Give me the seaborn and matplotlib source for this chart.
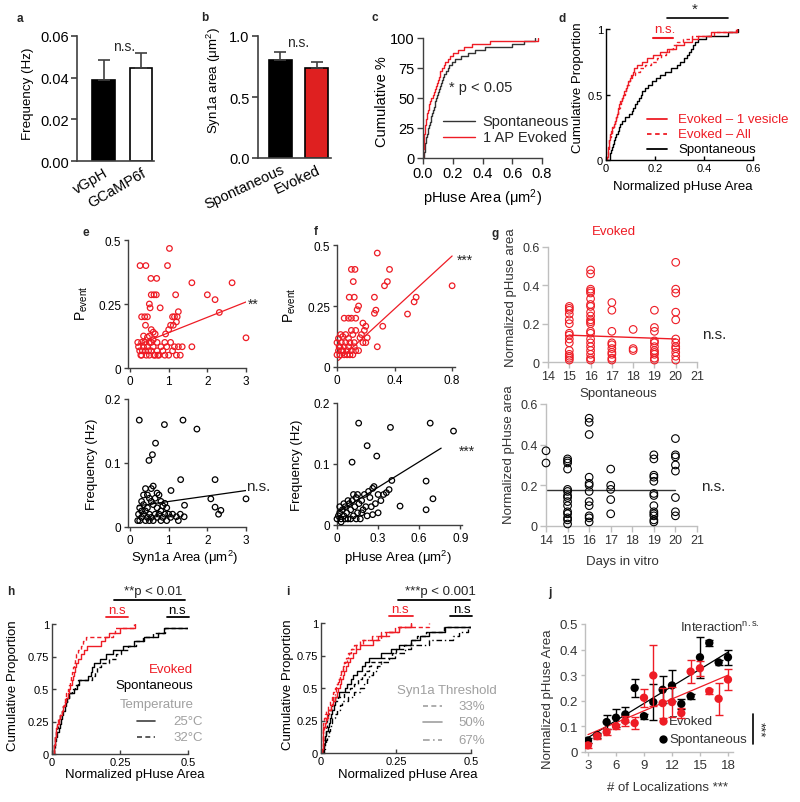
import matplotlib
matplotlib.use("Agg")
import matplotlib.pyplot as plt
import numpy as np
import pandas as pd
import seaborn as sns

sns.set_theme(style="ticks")
plt.rcParams["font.family"] = ["Liberation Sans", "DejaVu Sans"]
plt.rcParams["mathtext.fontset"] = "custom"
plt.rcParams["mathtext.rm"] = "Liberation Sans"
plt.rcParams["mathtext.it"] = "Liberation Sans:italic"
plt.rcParams["mathtext.bf"] = "Liberation Sans:bold"
plt.rcParams["axes.unicode_minus"] = False

RED = "#ee1c25"
BAR_RED = "#ff0000"
GRAY = "#a0a0a0"
LGRAY = "#bfbfbf"
DGRAY = "#404040"

# ---------------- data ----------------
# a
a_groups = ["vGpH", "GCaMP6f"]
a_means = [0.039, 0.0447]
a_sem = [0.0094, 0.0070]
# b
b_groups = ["Spontaneous", "Evoked"]
b_means = [0.80, 0.735]
b_sem = [0.065, 0.052]
# c (pHuse area samples, um^2)
c_spont = [0.006, 0.009, 0.011, 0.013, 0.016, 0.018, 0.021, 0.026, 0.031, 0.036,
           0.041, 0.046, 0.051, 0.056, 0.061, 0.067, 0.073, 0.078, 0.084, 0.090,
           0.095, 0.101, 0.107, 0.114, 0.121, 0.128, 0.136, 0.144, 0.154, 0.165,
           0.178, 0.198, 0.218, 0.257, 0.300, 0.350, 0.420, 0.597, 0.680, 0.753]
c_evoked = [0.001, 0.002, 0.003, 0.0045, 0.0055, 0.0065, 0.008, 0.010, 0.012, 0.014,
            0.016, 0.018, 0.022, 0.026, 0.030, 0.034, 0.039, 0.043, 0.048, 0.055,
            0.064, 0.073, 0.080, 0.087, 0.094, 0.100, 0.105, 0.111, 0.116, 0.125,
            0.139, 0.150, 0.166, 0.183, 0.203, 0.236, 0.274, 0.330, 0.450, 0.775]
# d (normalized pHuse area samples)
d_ev_1ves = [0.005, 0.007, 0.008, 0.010, 0.012, 0.013, 0.015, 0.018, 0.022, 0.026,
             0.031, 0.035, 0.039, 0.043, 0.047, 0.051, 0.055, 0.059, 0.064, 0.070,
             0.075, 0.080, 0.086, 0.091, 0.097, 0.103, 0.109, 0.116, 0.128, 0.145,
             0.168, 0.193, 0.220, 0.248, 0.287, 0.320, 0.349, 0.374, 0.430, 0.533]
d_ev_all = [0.005, 0.007, 0.009, 0.011, 0.012, 0.014, 0.016, 0.019, 0.023, 0.027,
            0.032, 0.037, 0.040, 0.044, 0.048, 0.052, 0.056, 0.060, 0.065, 0.071,
            0.076, 0.082, 0.087, 0.093, 0.099, 0.107, 0.120, 0.140, 0.160, 0.183,
            0.208, 0.226, 0.245, 0.258, 0.275, 0.290, 0.315, 0.350, 0.440, 0.530]
d_spont = [0.015, 0.018, 0.022, 0.026, 0.030, 0.034, 0.038, 0.042, 0.047, 0.053,
           0.058, 0.064, 0.078, 0.092, 0.105, 0.112, 0.120, 0.128, 0.135, 0.141,
           0.148, 0.158, 0.172, 0.187, 0.203, 0.220, 0.239, 0.266, 0.291, 0.304,
           0.317, 0.329, 0.337, 0.346, 0.354, 0.364, 0.377, 0.410, 0.500, 0.540]
# e top: Syn1a area vs P_event (evoked)
e_ev_area = [0.26, 0.41, 0.54, 0.69, 0.97, 1.02, 0.55, 0.62, 0.68, 0.50,
             0.52, 0.78, 0.30, 0.38, 0.45, 1.18, 1.60, 2.00, 2.20, 2.31,
             2.64, 3.00, 0.40, 1.10, 1.15, 1.22, 1.25, 1.20, 1.05, 1.00,
             0.92, 1.12, 0.55, 0.60, 0.65, 0.50, 0.50, 0.55, 0.60, 0.45,
             0.20, 0.22, 0.25, 0.28, 0.30, 0.32, 0.35, 0.38, 0.40, 0.42,
             0.45, 0.48, 0.50, 0.55, 0.60, 0.65, 0.70, 0.75, 0.80, 0.85,
             0.90, 0.95, 1.00, 1.10, 1.15, 1.20, 1.25, 1.30, 1.35, 1.60,
             0.70, 0.90, 1.05, 0.30, 0.35, 0.62, 0.72]
e_ev_p = [0.40, 0.40, 0.35, 0.35, 0.40, 0.467, 0.286, 0.286, 0.286, 0.25,
          0.235, 0.235, 0.20, 0.20, 0.20, 0.286, 0.333, 0.286, 0.267, 0.217,
          0.333, 0.118, 0.167, 0.20, 0.20, 0.20, 0.22, 0.18, 0.167, 0.15,
          0.133, 0.167, 0.15, 0.14, 0.133, 0.125, 0.10, 0.10, 0.11, 0.12,
          0.10, 0.083, 0.067, 0.05, 0.05, 0.067, 0.083, 0.10, 0.067, 0.05,
          0.083, 0.067, 0.05, 0.067, 0.083, 0.05, 0.067, 0.05, 0.083, 0.067,
          0.05, 0.083, 0.05, 0.067, 0.083, 0.05, 0.083, 0.05, 0.083, 0.083,
          0.10, 0.10, 0.10, 0.10, 0.125, 0.05, 0.05]
e_ev_fit_x = [0.2, 3.0]
e_ev_fit_y = [0.09, 0.258]
# e bottom: Syn1a area vs frequency (spontaneous)
e_sp_area = [0.24, 1.37, 0.89, 1.73, 0.66, 0.58, 0.49, 1.31, 2.20, 1.06,
             2.09, 3.00, 2.20, 2.35, 2.29, 1.41, 1.40, 1.30, 1.20, 1.25,
             0.55, 0.60, 0.70, 0.75, 0.80, 0.85, 0.90, 0.95, 1.00, 1.05,
             1.10, 0.40, 0.45, 0.50, 0.55, 0.30, 0.35, 0.25, 0.22, 0.20,
             0.25, 0.30, 0.35, 0.40, 0.45, 0.50, 0.55, 0.60, 0.65, 0.70,
             0.75, 0.80, 0.85, 0.90, 0.95, 0.30, 0.40, 0.50, 0.60, 0.65,
             0.70, 0.80, 0.35, 0.45]
e_sp_freq = [0.167, 0.167, 0.16, 0.153, 0.131, 0.113, 0.104, 0.074, 0.074, 0.057,
             0.044, 0.044, 0.031, 0.026, 0.02, 0.034, 0.016, 0.02, 0.016, 0.01,
             0.06, 0.064, 0.053, 0.05, 0.04, 0.033, 0.037, 0.03, 0.02, 0.015,
             0.02, 0.06, 0.05, 0.045, 0.04, 0.04, 0.035, 0.03, 0.02, 0.01,
             0.01, 0.015, 0.02, 0.025, 0.03, 0.02, 0.015, 0.01, 0.02, 0.03,
             0.02, 0.01, 0.015, 0.02, 0.01, 0.025, 0.01, 0.01, 0.035, 0.045,
             0.015, 0.025, 0.05, 0.015]
e_sp_fit_x = [0.2, 3.0]
e_sp_fit_y = [0.033, 0.057]
# f top: pHuse area vs P_event (evoked)
f_ev_area = [0.28, 0.10, 0.125, 0.365, 0.113, 0.35, 0.33, 0.085, 0.12, 0.26,
             0.55, 0.536, 0.49, 0.80, 0.27, 0.26, 0.318, 0.28, 0.15, 0.14,
             0.05, 0.08, 0.10, 0.13, 0.18, 0.20, 0.19, 0.21, 0.18, 0.20,
             0.17, 0.16, 0.15,
             0.0, 0.01, 0.02, 0.0, 0.01, 0.02, 0.03, 0.03, 0.04, 0.05,
             0.05, 0.06, 0.06, 0.07, 0.07, 0.08, 0.09, 0.09, 0.10, 0.10,
             0.11, 0.11, 0.12, 0.12, 0.13, 0.13, 0.04, 0.015, 0.025, 0.08]
f_ev_p = [0.467, 0.40, 0.40, 0.40, 0.35, 0.35, 0.333, 0.286, 0.286, 0.286,
          0.286, 0.267, 0.217, 0.333, 0.233, 0.22, 0.167, 0.083, 0.25, 0.235,
          0.20, 0.20, 0.20, 0.20, 0.18, 0.167, 0.15, 0.12, 0.10, 0.10,
          0.133, 0.12, 0.067,
          0.05, 0.067, 0.083, 0.10, 0.117, 0.05, 0.067, 0.10, 0.125, 0.05,
          0.083, 0.10, 0.133, 0.05, 0.067, 0.083, 0.05, 0.10, 0.067, 0.15,
          0.05, 0.133, 0.083, 0.10, 0.067, 0.15, 0.067, 0.083, 0.133, 0.117]
f_ev_fit_x = [0.01, 0.80]
f_ev_fit_y = [0.027, 0.455]
# f bottom: pHuse area vs frequency (spontaneous)
f_sp_area = [0.158, 0.39, 0.22, 0.29, 0.11, 0.68, 0.85, 0.65, 0.70, 0.65,
             0.46, 0.40, 0.36, 0.38, 0.27, 0.26, 0.30, 0.32, 0.34, 0.30,
             0.26, 0.28, 0.24, 0.25,
             0.0, 0.01, 0.02, 0.03, 0.04, 0.05, 0.06, 0.07, 0.08, 0.09,
             0.10, 0.11, 0.12, 0.13, 0.14, 0.15, 0.16, 0.17, 0.18, 0.19,
             0.20, 0.21, 0.22, 0.23,
             0.02, 0.05, 0.08, 0.12, 0.14, 0.18, 0.10, 0.06, 0.15, 0.03]
f_sp_freq = [0.167, 0.16, 0.13, 0.113, 0.103, 0.167, 0.154, 0.072, 0.043, 0.025,
             0.031, 0.073, 0.053, 0.058, 0.063, 0.06, 0.05, 0.04, 0.05, 0.02,
             0.017, 0.035, 0.045, 0.03,
             0.01, 0.015, 0.02, 0.01, 0.025, 0.015, 0.03, 0.02, 0.01, 0.035,
             0.025, 0.04, 0.015, 0.03, 0.045, 0.02, 0.035, 0.01, 0.04, 0.025,
             0.05, 0.03, 0.015, 0.055,
             0.03, 0.035, 0.04, 0.05, 0.01, 0.02, 0.01, 0.01, 0.05, 0.005]
f_sp_fit_x = [0.0, 0.76]
f_sp_fit_y = [0.02, 0.126]
# g: normalized pHuse area by days in vitro
g_ev_days = [15, 16, 17, 18, 19, 20]
g_ev_vals = [[0.29, 0.28, 0.27, 0.25, 0.22, 0.20, 0.15, 0.14, 0.12, 0.10, 0.06, 0.04, 0.03, 0.02, 0.01],
             [0.48, 0.46, 0.38, 0.37, 0.36, 0.33, 0.30, 0.29, 0.26, 0.24, 0.22, 0.21, 0.20, 0.16, 0.15,
              0.12, 0.10, 0.08, 0.06, 0.04, 0.02, 0.01],
             [0.31, 0.27, 0.16, 0.10, 0.09, 0.07, 0.05, 0.04, 0.02, 0.01],
             [0.17, 0.07, 0.06],
             [0.27, 0.18, 0.16, 0.11, 0.10, 0.08, 0.06, 0.05, 0.04, 0.02, 0.01],
             [0.52, 0.38, 0.36, 0.26, 0.22, 0.12, 0.10, 0.08, 0.07, 0.05, 0.03, 0.01]]
g_ev_fit_x = [15, 20]
g_ev_fit_y = [0.14, 0.12]
g_sp_days = [14, 15, 16, 17, 19, 20]
g_sp_vals = [[0.37, 0.31],
             [0.33, 0.32, 0.31, 0.28, 0.18, 0.17, 0.15, 0.14, 0.12, 0.10, 0.07, 0.06, 0.04, 0.03, 0.01],
             [0.53, 0.51, 0.45, 0.24, 0.21, 0.20, 0.17, 0.12, 0.10, 0.05, 0.04, 0.02],
             [0.28, 0.20, 0.18, 0.13, 0.06],
             [0.35, 0.33, 0.25, 0.24, 0.22, 0.16, 0.15, 0.10, 0.07, 0.06, 0.05, 0.03, 0.02],
             [0.43, 0.35, 0.34, 0.30, 0.27, 0.14, 0.07, 0.05]]
g_sp_fit_x = [14, 20]
g_sp_fit_y = [0.178, 0.178]
# h: temperature
h_ev_25 = [0.006, 0.008, 0.010, 0.012, 0.014, 0.015, 0.018, 0.024, 0.031, 0.037,
           0.041, 0.046, 0.052, 0.057, 0.062, 0.067, 0.073, 0.078, 0.081, 0.085,
           0.089, 0.094, 0.105, 0.116, 0.130, 0.180, 0.196, 0.210, 0.250, 0.305]
h_ev_32 = [0.006, 0.008, 0.010, 0.012, 0.014, 0.016, 0.018, 0.023, 0.029, 0.035,
           0.039, 0.044, 0.049, 0.053, 0.057, 0.061, 0.066, 0.070, 0.074, 0.079,
           0.082, 0.085, 0.089, 0.097, 0.105, 0.115, 0.125, 0.225, 0.230, 0.300]
h_sp_25 = [0.007, 0.009, 0.010, 0.012, 0.018, 0.024, 0.030, 0.033, 0.038, 0.042,
           0.047, 0.051, 0.056, 0.062, 0.080, 0.092, 0.099, 0.134, 0.143, 0.148,
           0.154, 0.175, 0.200, 0.225, 0.260, 0.300, 0.340, 0.390, 0.410, 0.560]
h_sp_32 = [0.007, 0.010, 0.012, 0.014, 0.016, 0.019, 0.021, 0.026, 0.031, 0.036,
           0.041, 0.046, 0.055, 0.064, 0.072, 0.083, 0.094, 0.146, 0.158, 0.167,
           0.180, 0.210, 0.235, 0.255, 0.280, 0.310, 0.335, 0.370, 0.415, 0.560]
# i: Syn1a threshold
i_ev_33 = [0.004, 0.005, 0.006, 0.006, 0.007, 0.007, 0.008, 0.011, 0.014, 0.018,
           0.024, 0.029, 0.036, 0.041, 0.046, 0.051, 0.056, 0.062, 0.067, 0.072,
           0.078, 0.084, 0.091, 0.099, 0.111, 0.130, 0.200, 0.225, 0.247, 0.360]
i_ev_50 = [0.004, 0.005, 0.006, 0.006, 0.007, 0.008, 0.012, 0.016, 0.020, 0.024,
           0.032, 0.040, 0.047, 0.052, 0.057, 0.062, 0.067, 0.072, 0.077, 0.084,
           0.090, 0.096, 0.105, 0.118, 0.130, 0.172, 0.190, 0.215, 0.260, 0.300]
i_ev_67 = [0.004, 0.005, 0.006, 0.007, 0.008, 0.010, 0.015, 0.019, 0.024, 0.028,
           0.032, 0.036, 0.040, 0.045, 0.050, 0.054, 0.059, 0.064, 0.068, 0.074,
           0.080, 0.085, 0.092, 0.099, 0.115, 0.140, 0.170, 0.200, 0.260, 0.300]
i_sp_33 = [0.007, 0.009, 0.011, 0.013, 0.015, 0.017, 0.019, 0.021, 0.023, 0.025,
           0.036, 0.047, 0.056, 0.078, 0.097, 0.110, 0.122, 0.136, 0.148, 0.160,
           0.168, 0.200, 0.235, 0.250, 0.278, 0.300, 0.320, 0.350, 0.410, 0.560]
i_sp_50 = [0.008, 0.010, 0.012, 0.013, 0.018, 0.022, 0.026, 0.030, 0.034, 0.038,
           0.042, 0.046, 0.048, 0.060, 0.080, 0.087, 0.100, 0.106, 0.120, 0.136,
           0.148, 0.160, 0.200, 0.232, 0.260, 0.300, 0.330, 0.360, 0.413, 0.560]
i_sp_67 = [0.011, 0.014, 0.018, 0.021, 0.025, 0.029, 0.032, 0.036, 0.046, 0.054,
           0.062, 0.069, 0.090, 0.110, 0.130, 0.142, 0.152, 0.160, 0.172, 0.185,
           0.200, 0.225, 0.247, 0.280, 0.300, 0.360, 0.440, 0.460, 0.490, 0.560]
# j
j_loc = [3, 4, 5, 6, 7, 8, 9, 10, 11, 12, 13, 14, 15, 16, 17, 18]
j_sp_mean = [0.045, 0.065, 0.117, 0.134, 0.147, 0.250, 0.140, 0.195, 0.243, 0.260,
             0.188, 0.218, 0.370, 0.426, 0.350, 0.370]
j_sp_err = [0.01, 0.01, 0.026, 0.035, 0.029, 0.035, 0.01, 0.07, 0.052, 0.06,
            0.02, 0.01, 0.08, 0.01, 0.01, 0.03]
j_ev_mean = [0.026, 0.062, 0.078, 0.101, 0.121, 0.113, 0.212, 0.299, 0.191, 0.195,
             0.152, 0.314, 0.327, 0.238, 0.208, 0.283]
j_ev_err = [0.01, 0.01, 0.01, 0.01, 0.02, 0.025, 0.035, 0.12, 0.06, 0.06,
            0.02, 0.045, 0.03, 0.01, 0.062, 0.04]
j_fit_x = [3, 18]
j_sp_fit = [0.056, 0.39]
j_ev_fit = [0.068, 0.30]

# ---------------- layout helpers ----------------
W, H = 800, 803
fig = plt.figure(figsize=(W / 100, H / 100), dpi=100)


def add_ax(l, t, r, b):
    ax = fig.add_axes([l / W, 1 - b / H, (r - l) / W, (b - t) / H])
    ax._px = (l, t, r, b)
    return ax


def letter(x, y, s):
    fig.text(x / W, 1 - y / H, s, fontsize=8.5, fontweight="bold", ha="center", va="center")


def style(ax, color="black", lw=1.0, direction="out", length=3.5, size=8, labelcolor="black"):
    for s in ["top", "right"]:
        ax.spines[s].set_visible(False)
    for s in ["left", "bottom"]:
        ax.spines[s].set_color(color)
        ax.spines[s].set_linewidth(lw)
    ax.tick_params(direction=direction, length=length, width=lw, color=color,
                   labelsize=size, labelcolor=labelcolor, pad=2)


def ylabel_at(ax, text, right_px, yfrac, size, color="black"):
    l, t, r, b = ax._px
    ax.set_ylabel(text, fontsize=size, color=color)
    ax.yaxis.set_label_coords((right_px - l) / (r - l), yfrac)


def xlabel_at(ax, text, top_px, xfrac, size, color="black"):
    l, t, r, b = ax._px
    ax.set_xlabel(text, fontsize=size, color=color)
    ax.xaxis.set_label_coords(xfrac, -(top_px - b) / (b - t))


def ecdf(ax, vals, color, ls="-", lw=1.0, stat="proportion"):
    sns.ecdfplot(x=vals, ax=ax, color=color, linestyle=ls, linewidth=lw, stat=stat)


def circles(ax, x, y, color, s=16, lw=0.9):
    sns.scatterplot(x=x, y=y, ax=ax, color=color, facecolor="none", edgecolor=color,
                    s=s, linewidth=lw, clip_on=False, zorder=3)


# ---------------- a ----------------
ax = add_ax(77, 37, 154, 162)
df_a = pd.DataFrame({"group": a_groups, "freq": a_means})
sns.barplot(data=df_a, x="group", y="freq", hue="group", palette=["black", "white"],
            edgecolor="black", linewidth=1.2, width=0.61, errorbar=None, legend=False, ax=ax)
ax.errorbar([0, 1], a_means, yerr=[[0, 0], a_sem], fmt="none", ecolor=DGRAY,
            elinewidth=1.2, capsize=4, capthick=1.2, zorder=1)
style(ax, color=DGRAY, lw=1.2, length=4, size=10.5)
ax.tick_params(axis="x", length=0, pad=3)
ax.set_xlim(-0.707, 1.347)
ax.set_ylim(0, 0.06)
ax.set_yticks([0, 0.02, 0.04, 0.06])
ax.set_yticklabels(["0.00", "0.02", "0.04", "0.06"])
ax.set_xticks([0, 1])
ax.set_xticklabels(a_groups, rotation=30, ha="right", rotation_mode="anchor", fontsize=10.5)
ylabel_at(ax, "Frequency (Hz)", 34, 0.544, 9.6)
ax.set_xlabel("")
ax.text(0.55, 0.0552, "n.s.", ha="center", va="center", fontsize=10)
letter(20, 19, "a")

# ---------------- b ----------------
ax = add_ax(258, 37, 331, 159)
df_b = pd.DataFrame({"group": b_groups, "area": b_means})
sns.barplot(data=df_b, x="group", y="area", hue="group", palette=["black", BAR_RED],
            edgecolor="black", linewidth=1.2, width=0.63, errorbar=None, legend=False, ax=ax)
ax.errorbar([0, 1], b_means, yerr=[[0, 0], b_sem], fmt="none", ecolor=DGRAY,
            elinewidth=1.2, capsize=4, capthick=1.2, zorder=1)
style(ax, color=DGRAY, lw=1.2, length=4, size=10.5)
ax.tick_params(axis="x", length=0, pad=3)
ax.set_xlim(-0.616, 1.384)
ax.set_ylim(0, 1.0)
ax.set_yticks([0, 0.5, 1.0])
ax.set_yticklabels(["0.0", "0.5", "1.0"])
ax.set_xticks([0, 1])
ax.set_xticklabels(b_groups, rotation=25, ha="right", rotation_mode="anchor", fontsize=10.5)
ylabel_at(ax, "Syn1a area (\u03bcm$^{2}$)", 223, 0.64, 9.6)
ax.set_xlabel("")
ax.text(0.48, 0.95, "n.s.", ha="center", va="center", fontsize=10)
letter(205, 18, "b")

# ---------------- c ----------------
ax = add_ax(423, 39, 542, 159)
ecdf(ax, c_spont, "#333333", stat="percent")
ecdf(ax, c_evoked, RED, stat="percent")
style(ax, color=DGRAY, lw=1.0, length=4, size=10.5)
ax.set_xlim(0, 0.8)
ax.set_ylim(0, 100)
ax.set_xticks([0, 0.2, 0.4, 0.6, 0.8])
ax.set_xticklabels(["0.0", "0.2", "0.4", "0.6", "0.8"])
ax.set_yticks([0, 25, 50, 75, 100])
ylabel_at(ax, "Cumulative %", 389, 0.48, 10.5)
xlabel_at(ax, "pHuse Area (\u03bcm$^{2}$)", 187, 0.5, 10.5)
ax.text(0.172, 59, "* p < 0.05", ha="left", va="center", fontsize=10.5)
ax.plot([0.134, 0.349], [30.8, 30.8], color="#333333", lw=1.0, clip_on=False)
ax.plot([0.134, 0.349], [17.5, 17.5], color=RED, lw=1.0, clip_on=False)
ax.text(0.40, 30.8, "Spontaneous", ha="left", va="center", fontsize=10.5)
ax.text(0.40, 17.5, "1 AP Evoked", ha="left", va="center", fontsize=10.5)
letter(375, 18, "c")

# ---------------- d ----------------
ax = add_ax(606, 30, 753, 161)
ecdf(ax, d_spont, "black")
ecdf(ax, d_ev_all, RED, ls=(0, (2.5, 2)))
ecdf(ax, d_ev_1ves, RED)
style(ax, color="black", lw=1.0, direction="in", length=3, size=8)
ax.set_xlim(0, 0.6)
ax.set_ylim(0, 1)
ax.set_xticks([0, 0.2, 0.4, 0.6])
ax.set_xticklabels(["0", "0.2", "0.4", "0.6"])
ax.set_yticks([0, 0.5, 1])
ax.set_yticklabels(["0", "0.5", "1"])
ax.set_ylabel("")
ylabel_at(ax, "Cumulative Proportion", 584, 0.557, 9.5)
xlabel_at(ax, "Normalized pHuse Area", 181, 0.52, 9.5)
ax.plot([0.249, 0.498], [1.084, 1.084], color="black", lw=1.2, clip_on=False)
ax.text(0.363, 1.10, "*", ha="center", va="bottom", fontsize=11)
ax.plot([0.192, 0.273], [0.931, 0.931], color=RED, lw=1.5, clip_on=False)
ax.text(0.241, 0.955, "n.s.", ha="center", va="bottom", fontsize=9.5, color=RED)
for yy, lab, col, ls in [(0.313, "Evoked \u2013 1 vesicle", RED, "-"),
                         (0.198, "Evoked \u2013 All", RED, (0, (2.5, 2))),
                         (0.084, "Spontaneous", "black", "-")]:
    ax.plot([0.167, 0.249], [yy, yy], color=col, ls=ls, lw=1.3)
    ax.text(0.294, yy, lab, ha="left", va="center", fontsize=9.5, color=col)
letter(562, 19, "d")

# ---------------- e top ----------------
ax = add_ax(128, 241, 246, 369)
circles(ax, e_ev_area, e_ev_p, RED)
sns.lineplot(x=e_ev_fit_x, y=e_ev_fit_y, ax=ax, color=RED, lw=0.9)
style(ax, color=DGRAY, lw=1.0, length=3, size=8.5)
ax.set_xlim(-0.052, 3.0)
ax.set_ylim(0, 0.5)
ax.set_xticks([0, 1, 2, 3])
ax.set_yticks([0, 0.25, 0.5])
ax.set_yticklabels(["0", "0.25", "0.5"])
ylabel_at(ax, "$\\mathrm{P}_{\\mathrm{event}}$", 90, 0.51, 10)
ax.text(3.06, 0.252, "**", ha="left", va="center", fontsize=10)
letter(86, 233, "e")

# ---------------- e bottom ----------------
ax = add_ax(128, 400, 246, 528)
circles(ax, e_sp_area, e_sp_freq, "black")
sns.lineplot(x=e_sp_fit_x, y=e_sp_fit_y, ax=ax, color="black", lw=0.9)
style(ax, color=DGRAY, lw=1.0, length=3, size=8.5)
ax.set_xlim(-0.052, 3.0)
ax.set_ylim(0, 0.2)
ax.set_xticks([0, 1, 2, 3])
ax.set_yticks([0, 0.1, 0.2])
ax.set_yticklabels(["0", "0.1", "0.2"])
ylabel_at(ax, "Frequency (Hz)", 98, 0.5, 9.5)
xlabel_at(ax, "Syn1a Area (\u03bcm$^{2}$)", 549, 0.48, 9.5)
ax.text(3.0, 0.064, "n.s.", ha="left", va="center", fontsize=11)

# ---------------- f top ----------------
ax = add_ax(337, 246, 455, 368)
circles(ax, f_ev_area, f_ev_p, RED)
sns.lineplot(x=f_ev_fit_x, y=f_ev_fit_y, ax=ax, color=RED, lw=0.9)
style(ax, color=DGRAY, lw=1.0, length=3, size=8.5)
ax.set_xlim(0, 0.82)
ax.set_ylim(0, 0.5)
ax.set_xticks([0, 0.4, 0.8])
ax.set_xticklabels(["0", "0.4", "0.8"])
ax.set_yticks([0, 0.25, 0.5])
ax.set_yticklabels(["0", "0.25", "0.5"])
ylabel_at(ax, "$\\mathrm{P}_{\\mathrm{event}}$", 298, 0.51, 10)
ax.text(0.835, 0.44, "***", ha="left", va="center", fontsize=10)
letter(316, 232, "f")

# ---------------- f bottom ----------------
ax = add_ax(337, 404, 462, 526)
circles(ax, f_sp_area, f_sp_freq, "black")
sns.lineplot(x=f_sp_fit_x, y=f_sp_fit_y, ax=ax, color="black", lw=0.9)
style(ax, color=DGRAY, lw=1.0, length=3, size=8.5)
ax.set_xlim(0, 0.912)
ax.set_ylim(0, 0.2)
ax.set_xticks([0, 0.3, 0.6, 0.9])
ax.set_xticklabels(["0", "0.3", "0.6", "0.9"])
ax.set_yticks([0, 0.1, 0.2])
ax.set_yticklabels(["0", "0.1", "0.2"])
ylabel_at(ax, "Frequency (Hz)", 303, 0.5, 9.5)
xlabel_at(ax, "pHuse Area (\u03bcm$^{2}$)", 549, 0.484, 9.5)
ax.text(0.89, 0.121, "***", ha="left", va="center", fontsize=10)

# ---------------- g top ----------------
ax = add_ax(548, 248, 697, 363)
df_gev = pd.DataFrame([(d, v) for d, vals in zip(g_ev_days, g_ev_vals) for v in vals],
                      columns=["day", "area"])
circles(ax, df_gev["day"], df_gev["area"], RED, s=30, lw=0.8)
sns.lineplot(x=g_ev_fit_x, y=g_ev_fit_y, ax=ax, color=RED, lw=1.0)
style(ax, color=LGRAY, lw=1.0, length=4, size=9, labelcolor="#333333")
ax.set_xlim(14, 21)
ax.set_ylim(0, 0.6)
ax.set_xticks(range(14, 22))
ax.set_yticks([0, 0.2, 0.4, 0.6])
ax.set_yticklabels(["0", "0.2", "0.4", "0.6"])
ylabel_at(ax, "Normalized pHuse area", 517, 0.57, 9.5, color="#333333")
ax.set_xlabel("")
ax.text(17.1, 0.683, "Evoked", ha="center", va="center", fontsize=9.5, color=RED)
ax.text(21.25, 0.146, "n.s.", ha="left", va="center", fontsize=11)
letter(495, 234, "g")

# ---------------- g bottom ----------------
ax = add_ax(546, 405, 697, 527)
df_gsp = pd.DataFrame([(d, v) for d, vals in zip(g_sp_days, g_sp_vals) for v in vals],
                      columns=["day", "area"])
circles(ax, df_gsp["day"], df_gsp["area"], "black", s=30, lw=0.8)
sns.lineplot(x=g_sp_fit_x, y=g_sp_fit_y, ax=ax, color="#333333", lw=1.0)
style(ax, color=LGRAY, lw=1.0, length=4, size=9, labelcolor="#333333")
ax.set_xlim(14, 21)
ax.set_ylim(0, 0.6)
ax.set_xticks(range(14, 22))
ax.set_yticks([0, 0.2, 0.4, 0.6])
ax.set_yticklabels(["0", "0.2", "0.4", "0.6"])
ylabel_at(ax, "Normalized pHuse area", 515, 0.59, 9.5, color="#333333")
xlabel_at(ax, "Days in vitro", 556, 0.503, 9.5, color="#333333")
ax.text(17.33, 0.654, "Spontaneous", ha="center", va="center", fontsize=9.5, color="#333333")
ax.text(21.2, 0.197, "n.s.", ha="left", va="center", fontsize=11)

# ---------------- h ----------------
ax = add_ax(52, 625, 188, 755)
DASH = (0, (3, 2))
ecdf(ax, h_sp_25, "black")
ecdf(ax, h_sp_32, "black", ls=DASH)
ecdf(ax, h_ev_32, RED, ls=DASH)
ecdf(ax, h_ev_25, RED)
style(ax, color=DGRAY, lw=1.0, direction="in", length=3, size=8)
ax.set_xlim(0, 0.5)
ax.set_ylim(0, 1)
ax.set_xticks([0, 0.25, 0.5])
ax.set_xticklabels(["0", "0.25", "0.5"])
ax.set_yticks([0, 0.25, 0.5, 0.75, 1])
ax.set_yticklabels(["0", "0.25", "0.5", "0.75", "1"])
ylabel_at(ax, "Cumulative Proportion", 19, 0.53, 9.5)
xlabel_at(ax, "Normalized pHuse Area", 769, 0.61, 9.5)
ax.text(0.371, 1.254, "**p < 0.01", ha="center", va="center", fontsize=9.5)
ax.plot([0.228, 0.489], [1.185, 1.185], color="black", lw=1.3, clip_on=False)
ax.text(0.239, 1.06, "n.s", ha="center", va="bottom", fontsize=9.5, color=RED)
ax.plot([0.199, 0.279], [1.054, 1.054], color=RED, lw=1.3, clip_on=False)
ax.text(0.46, 1.06, "n.s", ha="center", va="bottom", fontsize=9.5, color="black")
ax.plot([0.423, 0.504], [1.054, 1.054], color="black", lw=1.3, clip_on=False)
ax.text(0.52, 0.654, "Evoked", ha="right", va="center", fontsize=9.5, color=RED)
ax.text(0.52, 0.53, "Spontaneous", ha="right", va="center", fontsize=9.5, color="black")
ax.text(0.522, 0.385, "Temperature", ha="right", va="center", fontsize=9.5, color=GRAY)
ax.plot([0.3125, 0.379], [0.254, 0.254], color=DGRAY, lw=1.2)
ax.plot([0.3125, 0.379], [0.131, 0.131], color=DGRAY, lw=1.2, ls=DASH)
ax.text(0.445, 0.254, "25\u00b0C", ha="left", va="center", fontsize=9.5, color=GRAY)
ax.text(0.445, 0.131, "32\u00b0C", ha="left", va="center", fontsize=9.5, color=GRAY)
letter(11, 592, "h")

# ---------------- i ----------------
ax = add_ax(321, 624, 471, 754)
DASHDOT = (0, (4, 2, 1, 2))
ecdf(ax, i_sp_50, "black")
ecdf(ax, i_sp_33, "black", ls=DASH)
ecdf(ax, i_sp_67, "black", ls=DASHDOT)
ecdf(ax, i_ev_33, RED, ls=DASH)
ecdf(ax, i_ev_67, RED, ls=DASHDOT)
ecdf(ax, i_ev_50, RED)
style(ax, color=DGRAY, lw=1.0, direction="in", length=3, size=8)
ax.set_xlim(0, 0.5)
ax.set_ylim(0, 1)
ax.set_xticks([0, 0.25, 0.5])
ax.set_xticklabels(["0", "0.25", "0.5"])
ax.set_yticks([0, 0.25, 0.5, 0.75, 1])
ax.set_yticklabels(["0", "0.25", "0.5", "0.75", "1"])
ylabel_at(ax, "Cumulative Proportion", 294, 0.53, 9.5)
xlabel_at(ax, "Normalized pHuse Area", 769, 0.577, 9.5)
ax.text(0.397, 1.246, "***p < 0.001", ha="center", va="center", fontsize=9.5)
ax.plot([0.257, 0.497], [1.177, 1.177], color="black", lw=1.3, clip_on=False)
ax.text(0.263, 1.06, "n.s", ha="center", va="bottom", fontsize=9.5, color=RED)
ax.plot([0.227, 0.307], [1.054, 1.054], color=RED, lw=1.3, clip_on=False)
ax.text(0.47, 1.06, "n.s", ha="center", va="bottom", fontsize=9.5, color="black")
ax.plot([0.43, 0.503], [1.054, 1.054], color="black", lw=1.3, clip_on=False)
ax.text(0.42, 0.485, "Syn1a Threshold", ha="center", va="center", fontsize=9.5, color=GRAY)
for yy, lab, ls in [(0.36, "33%", DASH), (0.238, "50%", "-"), (0.10, "67%", DASHDOT)]:
    ax.plot([0.34, 0.403], [yy, yy], color=GRAY, lw=1.2, ls=ls)
    ax.text(0.457, yy, lab, ha="left", va="center", fontsize=9.5, color=GRAY)
letter(288, 592, "i")

# ---------------- j ----------------
ax = add_ax(585, 625, 733, 753)
sns.lineplot(x=j_fit_x, y=j_sp_fit, ax=ax, color="black", lw=0.9)
sns.lineplot(x=j_fit_x, y=j_ev_fit, ax=ax, color=RED, lw=0.9)
ax.errorbar(j_loc, j_sp_mean, yerr=j_sp_err, fmt="none", ecolor="black", elinewidth=1.0,
            capsize=3, capthick=1.0, zorder=2)
sns.scatterplot(x=j_loc, y=j_sp_mean, ax=ax, color="black", s=36, edgecolor="none", zorder=3)
ax.errorbar(j_loc, j_ev_mean, yerr=j_ev_err, fmt="none", ecolor=RED, elinewidth=1.0,
            capsize=3, capthick=1.0, zorder=4)
sns.scatterplot(x=j_loc, y=j_ev_mean, ax=ax, color=RED, s=36, edgecolor="none", zorder=5)
style(ax, color=LGRAY, lw=1.0, length=3, size=9.5, labelcolor="#333333")
ax.set_xlim(2.68, 18.54)
ax.set_ylim(0, 0.5)
ax.set_xticks([3, 6, 9, 12, 15, 18])
ax.set_yticks([0, 0.1, 0.2, 0.3, 0.4, 0.5])
ax.set_yticklabels(["0", "0.1", "0.2", "0.3", "0.4", "0.5"])
ylabel_at(ax, "Normalized pHuse Area", 554, 0.42, 9.5, color="#333333")
xlabel_at(ax, "# of Localizations ***", 782, 0.56, 9.5, color="#333333")
ax.text(12.9, 0.49, "Interaction$^{\\mathrm{n.s.}}$", ha="left", va="center", fontsize=9.5, color="#333333")
ax.plot([11.04], [0.121], "o", color=RED, ms=6, mec="none", clip_on=False)
ax.plot([11.04], [0.051], "o", color="black", ms=6, mec="none", clip_on=False)
ax.text(11.7, 0.121, "Evoked", ha="left", va="center", fontsize=9.5, color="#333333")
ax.text(11.7, 0.051, "Spontaneous", ha="left", va="center", fontsize=9.5, color="#333333")
ax.plot([20.7, 20.7], [0.148, 0.031], color="black", lw=1.2, clip_on=False)
ax.text(21.4, 0.09, "***", ha="center", va="center", fontsize=9.5, rotation=270)
letter(550, 593, "j")

fig.savefig("out.png", dpi=100)
